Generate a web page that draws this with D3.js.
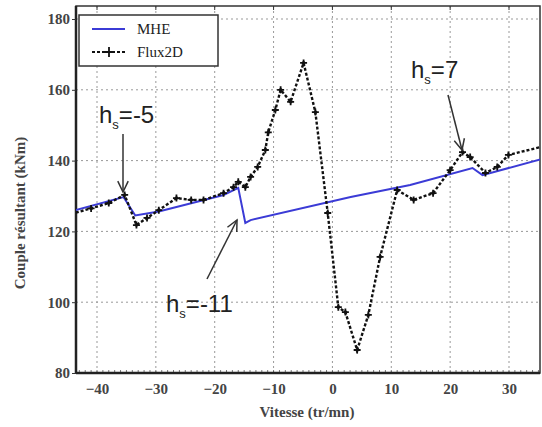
<!DOCTYPE html>
<html><head><meta charset="utf-8">
<script src="https://cdn.jsdelivr.net/npm/d3@7"></script>
<style>body{margin:0;background:#fff}svg{display:block}</style>
</head><body>
<svg id="c" width="542" height="427"></svg>
<script>
const xTicks = [-40,-30,-20,-10,0,10,20,30];
const yTicks = [80,100,120,140,160,180];
const fluxX = [-43.6,-41,-38,-35.3,-33.3,-31.5,-29.5,-26.5,-24,-21.9,-18.5,-16.8,-16,-14.8,-13.9,-12.7,-11.4,-10.9,-9.7,-8.8,-7.1,-4.9,-2.9,-0.8,1,2.2,4.2,6.1,8.1,11,13.8,17.1,20,22.1,23.4,26,28,29.9,35.3];
const fluxY = [125.3,126.5,128,130.3,121.8,123.8,126,129.4,128.9,128.9,130.8,132.5,134,132.5,135.4,138.2,143,148,154.3,160,156.6,167.6,153.7,125.2,98.6,97.2,86.5,96.4,112.8,131.7,128.9,130.8,137.3,142.4,141,136.5,138.2,141.6,143.8];
const mheX = [-43.6,-35.5,-33.5,-29.5,-18.5,-16,-14.8,-13.9,3.1,13.2,23.8,25.5,35.7];
const mheY = [126,129.7,124.5,125.6,130.3,132.3,122.4,123.2,129.7,133.1,137.9,135.9,140.5];
const annotations = [
  {t:"h", s:"s", v:"=-5", x:99, y:123, ax1:[123,134], ax2:[123,192]},
  {t:"h", s:"s", v:"=-11", x:166, y:312, ax1:[207,279], ax2:[237,220]},
  {t:"h", s:"s", v:"=7", x:411, y:78, ax1:[448,95], ax2:[462,150]}
];

const svg = d3.select("#c");
const x = d3.scaleLinear().domain([-40,30]).range([97,509]);
const y = d3.scaleLinear().domain([80,180]).range([373,19]);
const L = 76, R = 540, T = 6, B = 373;

svg.append("defs").append("clipPath").attr("id","clip")
  .append("rect").attr("x",L).attr("y",T).attr("width",R-L).attr("height",B-T);

// grid
const g = svg.append("g");
g.selectAll(".vg").data(xTicks).join("line")
  .attr("x1",d=>x(d)).attr("x2",d=>x(d)).attr("y1",T).attr("y2",B)
  .attr("stroke","#999").attr("stroke-width",1).attr("stroke-dasharray","2,3");
g.selectAll(".hg").data(yTicks.filter(d=>d>80)).join("line")
  .attr("x1",L).attr("x2",R).attr("y1",d=>y(d)).attr("y2",d=>y(d))
  .attr("stroke","#999").attr("stroke-width",1).attr("stroke-dasharray","2,3");

// minor ticks on bottom axis
const minor = d3.range(-43,36,1);
g.selectAll(".mt").data(minor).join("line")
  .attr("x1",d=>x(d)).attr("x2",d=>x(d)).attr("y1",B-3).attr("y2",B)
  .attr("stroke","#555").attr("stroke-width",0.8);

// frame
svg.append("rect").attr("x",L).attr("y",T).attr("width",R-L).attr("height",B-T)
  .attr("fill","none").attr("stroke","#333").attr("stroke-width",1.5);
svg.append("line").attr("x1",L).attr("x2",R).attr("y1",B).attr("y2",B).attr("stroke","#222").attr("stroke-width",2.5);
svg.append("line").attr("x1",L).attr("x2",L).attr("y1",T).attr("y2",B).attr("stroke","#222").attr("stroke-width",2.5);

// axes
const xa = svg.append("g").attr("transform",`translate(0,${B})`)
  .call(d3.axisBottom(x).tickValues(xTicks).tickSize(0).tickPadding(10));
xa.select(".domain").remove();
xa.selectAll("text").attr("font-family","'Liberation Serif',serif").attr("font-weight","bold")
  .attr("font-size",15).attr("fill","#444");
const ya = svg.append("g").attr("transform",`translate(${L},0)`)
  .call(d3.axisLeft(y).tickValues(yTicks).tickSize(4).tickPadding(2));
ya.select(".domain").remove();
ya.selectAll("line").attr("stroke","#333");
ya.selectAll("text").attr("font-family","'Liberation Serif',serif").attr("font-weight","bold")
  .attr("font-size",15).attr("fill","#444");
// top ticks
svg.selectAll(".tt").data(xTicks).join("line")
  .attr("x1",d=>x(d)).attr("x2",d=>x(d)).attr("y1",T).attr("y2",T+4).attr("stroke","#333");

svg.append("text").attr("x",307).attr("y",417).attr("text-anchor","middle")
  .attr("font-family","'Liberation Serif',serif").attr("font-weight","bold").attr("font-size",15)
  .attr("fill","#444").text("Vitesse (tr/mn)");
svg.append("text").attr("transform","translate(25,213) rotate(-90)").attr("text-anchor","middle")
  .attr("font-family","'Liberation Serif',serif").attr("font-weight","bold").attr("font-size",15)
  .attr("fill","#444").text("Couple résultant (kNm)");

// data lines
const plot = svg.append("g").attr("clip-path","url(#clip)");
const mhe = mheX.map((v,i)=>[v,mheY[i]]);
const flux = fluxX.map((v,i)=>[v,fluxY[i]]);
const line = d3.line().x(d=>x(d[0])).y(d=>y(d[1]));
plot.append("path").datum(mhe).attr("d",line).attr("fill","none")
  .attr("stroke","#3b3bd6").attr("stroke-width",2);
plot.append("path").datum(flux).attr("d",line).attr("fill","none")
  .attr("stroke","#111").attr("stroke-width",2.4).attr("stroke-dasharray","3,2");
const mk = plot.append("g").selectAll("g").data(flux.slice(1,-1)).join("g")
  .attr("transform",d=>`translate(${x(d[0])},${y(d[1])})`);
mk.append("path").attr("d","M-3.5,0H3.5M0,-3.5V3.5").attr("stroke","#111").attr("stroke-width",1.8);
mk.append("circle").attr("r",1.8).attr("fill","#111");

// legend
const lg = svg.append("g");
lg.append("rect").attr("x",79).attr("y",15).attr("width",139).attr("height",51)
  .attr("fill","#fff").attr("stroke","#333").attr("stroke-width",1.5);
lg.append("line").attr("x1",92).attr("x2",125).attr("y1",29).attr("y2",29).attr("stroke","#3b3bd6").attr("stroke-width",2);
lg.append("line").attr("x1",92).attr("x2",125).attr("y1",52).attr("y2",52).attr("stroke","#111").attr("stroke-width",2).attr("stroke-dasharray","3,2");
lg.append("path").attr("d","M104,52H114M109,47V57").attr("stroke","#111").attr("stroke-width",1.8);
lg.selectAll(".lt").data(["MHE","Flux2D"]).join("text")
  .attr("x",137).attr("y",(d,i)=>34+i*23)
  .attr("font-family","'Liberation Serif',serif").attr("font-size",15).attr("fill","#222").text(d=>d);

// annotations
const an = svg.append("g");
annotations.forEach(a=>{
  const t = an.append("text").attr("x",a.x).attr("y",a.y)
    .attr("font-family","'Liberation Sans',Arial,sans-serif").attr("font-size",24).attr("fill","#222");
  t.append("tspan").text(a.t);
  t.append("tspan").attr("font-size",13).attr("dy",6).text(a.s);
  t.append("tspan").attr("dy",-6).text(a.v);
  an.append("line").attr("x1",a.ax1[0]).attr("y1",a.ax1[1]).attr("x2",a.ax2[0]).attr("y2",a.ax2[1])
    .attr("stroke","#333").attr("stroke-width",1.5);
  const ang = Math.atan2(a.ax2[1]-a.ax1[1], a.ax2[0]-a.ax1[0]);
  const hl = 12, ha = 0.45;
  const p1 = [a.ax2[0]-hl*Math.cos(ang-ha), a.ax2[1]-hl*Math.sin(ang-ha)];
  const p2 = [a.ax2[0]-hl*Math.cos(ang+ha), a.ax2[1]-hl*Math.sin(ang+ha)];
  an.append("path").attr("d",`M${p1}L${a.ax2}L${p2}`).attr("fill","none").attr("stroke","#333").attr("stroke-width",1.5);
});
</script>
</body></html>
